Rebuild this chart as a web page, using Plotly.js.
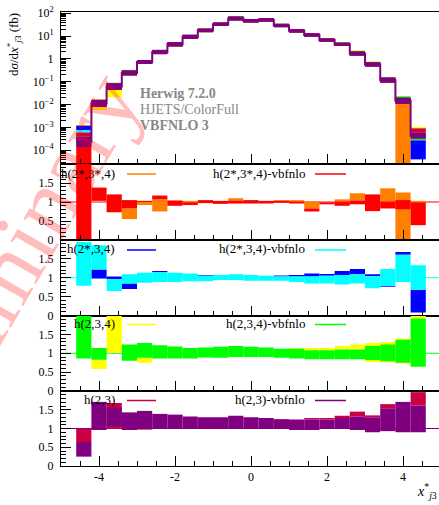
<!DOCTYPE html>
<html><head><meta charset="utf-8">
<script src="https://cdn.plot.ly/plotly-3.0.1.min.js"></script>
<style>html,body{margin:0;padding:0;overflow:hidden;background:#fff}</style>
</head><body><div id="chart" style="width:441px;height:505px"></div>
<script>
// ---------------- DATA ----------------
const binCenters = [-4.4,-4.0,-3.6,-3.2,-2.8,-2.4,-2.0,-1.6,-1.2,-0.8,-0.4,0.0,0.4,0.8,1.2,1.6,2.0,2.4,2.8,3.2,3.6,4.0,4.4];
const binWidth = 0.4;

// Main panel: d sigma / dx (fb), band lower / upper per bin
const mainPurpleLo = [1.4e-4,7.9e-3,4.4e-2,0.19,0.60,1.62,3.5,7.4,14.8,27.5,47.9,38.9,42.7,24.5,14.1,9.3,5.6,3.7,1.38,0.46,0.091,0.0107,3.2e-4];
const mainPurpleHi = [3.9e-4,1.58e-2,8.5e-2,0.31,0.89,2.45,5.4,11.2,20.9,38.9,70.8,55,60.3,33.9,20.0,13.2,7.9,5.1,2.1,0.71,0.151,0.020,5.8e-4];
const mainCrimsonLo = [3.9e-4,7.9e-3,4.4e-2,0.19,0.60,1.62,3.5,7.4,14.8,27.5,47.9,38.9,42.7,24.5,14.1,9.3,5.6,3.7,1.38,0.46,0.091,0.0107,5.8e-4];
const mainCrimsonHi = [6.0e-4,1.58e-2,8.5e-2,0.31,0.89,2.45,5.4,11.2,20.9,38.9,70.8,55,60.3,33.9,20.0,13.2,7.9,5.1,2.1,0.71,0.151,0.020,9.1e-4];
const mainGreenLo = [1.4e-4,7.9e-3,4.4e-2,0.19,0.60,1.62,3.5,7.4,14.8,27.5,47.9,38.9,42.7,24.5,14.1,9.3,5.6,3.7,1.38,0.46,0.091,0.0107,2.75e-4];
const mainGreenHi = [3.9e-4,1.58e-2,8.5e-2,0.33,0.89,2.45,5.4,11.2,20.9,38.9,70.8,55,60.3,33.9,20.0,13.2,7.9,5.1,2.25,0.74,0.151,0.023,3.2e-4];
const mainYellowLo = [1.4e-4,5.8e-3,2.1e-2,0.19,0.60,1.62,3.5,7.4,14.8,27.5,47.9,38.9,42.7,24.5,14.1,9.3,5.6,3.7,1.38,0.46,0.091,0.0107,6.0e-4];
const mainYellowHi = [3.9e-4,1.0e-2,5.0e-2,0.31,0.89,2.45,5.4,11.2,20.9,38.9,70.8,55,60.3,33.9,20.0,13.2,7.9,5.1,2.3,0.76,0.151,0.020,1.05e-3];
const mainCyanLo = [6.0e-4,7.9e-3,4.4e-2,0.19,0.60,1.62,3.5,7.4,14.8,27.5,47.9,38.9,42.7,24.5,14.1,9.3,5.6,3.7,1.38,0.46,0.091,0.0107,3.2e-4];
const mainCyanHi = [7.6e-4,1.58e-2,8.5e-2,0.31,0.89,2.45,5.4,11.2,20.9,38.9,70.8,55,60.3,33.9,20.0,13.2,7.9,5.1,2.1,0.71,0.151,0.020,5.8e-4];
const mainBlueLo = [7.6e-4,7.9e-3,4.5e-2,0.19,0.60,1.62,3.5,7.4,14.8,27.5,47.9,38.9,42.7,24.5,14.1,9.3,5.6,3.7,1.38,0.46,0.091,0.0107,4.0e-5];
const mainBlueHi = [1.17e-3,1.58e-2,8.9e-2,0.31,0.89,2.45,5.4,11.2,20.9,38.9,70.8,55,60.3,33.9,20.0,13.2,7.9,5.1,2.1,0.71,0.151,0.020,2.75e-4];
const mainRedLo = [1.0e-5,8.0e-3,4.4e-2,0.19,0.60,1.62,3.5,7.4,14.8,27.5,47.9,38.9,42.7,24.5,14.1,9.3,5.6,3.7,1.38,0.46,0.091,0.0107,3.2e-4];
const mainRedHi = [1.4e-4,1.66e-2,8.5e-2,0.31,0.89,2.45,5.4,11.2,20.9,38.9,70.8,55,60.3,33.9,20.0,13.2,7.9,5.1,2.1,0.71,0.151,0.020,5.8e-4];
const mainOrangeLo = [1.0e-3,7.9e-3,4.4e-2,0.19,0.60,1.62,3.5,7.4,14.8,27.5,47.9,38.9,42.7,24.5,14.1,9.3,5.6,3.7,1.38,0.46,0.10,1.0e-5,3.2e-4];
const mainOrangeHi = [1.25e-3,1.58e-2,8.5e-2,0.31,0.89,2.45,5.4,11.2,20.9,38.9,70.8,55,60.3,33.9,20.0,13.2,7.9,5.1,2.1,0.71,0.16,1.07e-2,5.8e-4];

// Ratio panel 1: h(2*,3*,4) (orange) and h(2*,3*,4)-vbfnlo (red)
const r1OrangeLo = [null,null,null,0.55,0.92,0.75,null,0.99,null,null,1.04,null,null,1.02,1.01,0.83,null,1.01,1.04,null,1.01,0.0,0.99];
const r1OrangeHi = [null,null,null,0.83,1.00,1.07,null,1.03,null,null,1.10,null,null,1.05,1.05,1.01,null,1.07,1.23,null,1.36,1.25,1.03];
const r1RedLo = [0.0,1.03,0.73,0.83,1.00,1.07,0.90,0.92,0.97,0.95,0.96,0.96,0.96,0.98,0.96,0.75,0.94,0.90,0.94,0.76,0.83,0.81,0.39];
const r1RedHi = [2.5,1.38,1.20,1.05,1.03,1.17,1.04,0.99,1.05,1.03,1.04,1.05,1.03,1.03,1.01,0.83,0.99,1.01,1.04,1.20,1.01,1.05,0.99];

// Ratio panel 2: h(2*,3,4) (blue) and h(2*,3,4)-vbfnlo (cyan)
const r2BlueLo = [null,0.98,0.96,0.70,null,1.15,null,null,1.05,null,null,null,null,1.03,1.03,1.03,1.05,1.07,1.09,1.04,0.76,1.61,0.08];
const r2BlueHi = [null,1.22,1.03,0.85,null,1.18,null,null,1.07,null,null,null,null,1.06,1.07,1.11,1.10,1.18,1.23,1.09,0.78,1.68,0.68];
const r2CyanLo = [0.79,1.22,0.65,0.85,0.87,0.89,0.89,0.91,0.91,0.94,0.94,0.92,0.92,0.92,0.89,0.85,0.85,0.82,0.85,0.72,0.78,0.89,0.68];
const r2CyanHi = [1.95,1.86,0.96,1.09,1.13,1.15,1.13,1.11,1.05,1.07,1.09,1.07,1.05,1.03,1.03,1.03,1.05,1.07,1.09,1.04,1.23,1.61,1.33];

// Ratio panel 3: h(2,3,4) (yellow) and h(2,3,4)-vbfnlo (green)
const r3YellowLo = [null,0.58,1.01,null,0.75,null,null,null,null,null,null,null,null,null,1.12,1.08,1.08,1.10,1.10,0.77,0.76,0.73,1.92];
const r3YellowHi = [null,0.83,2.10,null,0.88,null,null,null,null,null,null,null,null,null,1.14,1.14,1.14,1.19,1.23,1.27,1.30,1.39,2.10];
const r3GreenLo = [0.86,0.83,null,0.80,0.88,0.86,0.86,0.86,0.89,0.88,0.90,0.90,0.90,0.88,0.86,0.84,0.84,0.84,0.84,0.82,0.79,0.75,0.64];
const r3GreenHi = [2.10,1.14,null,1.23,1.27,1.21,1.18,1.14,1.15,1.17,1.19,1.17,1.15,1.12,1.12,1.08,1.08,1.10,1.10,1.19,1.23,1.36,1.92];

// Ratio panel 4: h(2,3) (crimson) and h(2,3)-vbfnlo (purple)
const r4CrimsonLo = [0.64,null,0.99,null,0.97,null,null,null,null,null,null,null,null,null,null,1.24,1.24,1.28,1.32,1.30,1.54,null,1.61];
const r4CrimsonHi = [0.99,null,1.68,null,1.00,null,null,null,null,null,null,null,null,null,null,1.28,1.28,1.34,1.45,1.35,1.65,null,1.97];
const r4PurpleLo = [0.25,0.96,1.05,0.96,0.99,0.99,0.99,0.99,0.99,0.99,0.99,0.99,0.99,0.99,0.96,0.96,0.99,0.99,0.96,0.90,0.93,0.90,0.90];
const r4PurpleHi = [0.64,1.71,1.56,1.43,1.47,1.39,1.37,1.32,1.30,1.30,1.34,1.30,1.28,1.25,1.24,1.24,1.24,1.28,1.32,1.30,1.54,1.71,1.61];

const legendLeft = ['h(2*,3*,4)','h(2*,3,4)','h(2,3,4)','h(2,3)'];
const legendRight = ['h(2*,3*,4)-vbfnlo','h(2*,3,4)-vbfnlo','h(2,3,4)-vbfnlo','h(2,3)-vbfnlo'];
const mainTickVals = [1e-4,1e-3,1e-2,1e-1,1,10,100];
const mainTickText = ['10<sup>−4</sup>','10<sup>−3</sup>','10<sup>−2</sup>','10<sup>−1</sup>','1','10<sup>1</sup>','10<sup>2</sup>'];
const ratioTickVals = [0,0.5,1,1.5];
const ratioTickText = ['0','0.5','1','1.5'];
const xTickVals = [-4,-2,0,2,4];

// ---------------- STYLE ----------------
const C = {orange:'#ff8000', red:'#ff0000', blue:'#0000ff', cyan:'#00ffff',
           yellow:'#ffff00', green:'#00ff00', crimson:'#cc0044', purple:'#800080'};
const FONT = '"Liberation Serif", "Times New Roman", serif';
const W = 441, H = 505, ML = 61, MR = 0, MT = 12, MB = 39;
const PW = W - ML - MR, PH = H - MT - MB;
const px = x => (x - ML) / PW;            // pixel -> paper x
const py = y => (H - MB - y) / PH;        // pixel -> paper y

function band(lo, hi, color, ya) {
  return {type:'bar', x:binCenters, base:lo,
    y: hi.map((h,i) => (h==null || lo[i]==null) ? null : h - lo[i]),
    width: binWidth, marker:{color:color, line:{width:0}},
    yaxis:ya, hoverinfo:'skip', showlegend:false};
}
// histogram step line through the band centres (geometric mean on the log panel)
function stepLine(lo, hi, color, ya, w) {
  const edges = binCenters.map(c => c - binWidth/2).concat([binCenters[binCenters.length-1] + binWidth/2]);
  const mid = lo.map((l,i) => Math.sqrt(l*hi[i]));
  return {type:'scatter', mode:'lines', x:edges, y:mid.concat([mid[mid.length-1]]),
    line:{shape:'hv', color:color, width:w}, yaxis:ya, hoverinfo:'skip', showlegend:false};
}

const traces = [
  band(mainOrangeLo, mainOrangeHi, C.orange, 'y'),
  band(mainRedLo, mainRedHi, C.red, 'y'),
  band(mainBlueLo, mainBlueHi, C.blue, 'y'),
  band(mainCyanLo, mainCyanHi, C.cyan, 'y'),
  band(mainYellowLo, mainYellowHi, C.yellow, 'y'),
  band(mainGreenLo, mainGreenHi, C.green, 'y'),
  band(mainCrimsonLo, mainCrimsonHi, C.crimson, 'y'),
  band(mainPurpleLo, mainPurpleHi, C.purple, 'y'),
  stepLine(mainPurpleLo, mainPurpleHi, C.purple, 'y', 2),
  band(r1OrangeLo, r1OrangeHi, C.orange, 'y2'),
  band(r1RedLo, r1RedHi, C.red, 'y2'),
  band(r2BlueLo, r2BlueHi, C.blue, 'y3'),
  band(r2CyanLo, r2CyanHi, C.cyan, 'y3'),
  band(r3YellowLo, r3YellowHi, C.yellow, 'y4'),
  band(r3GreenLo, r3GreenHi, C.green, 'y4'),
  band(r4CrimsonLo, r4CrimsonHi, C.crimson, 'y5'),
  band(r4PurpleLo, r4PurpleHi, C.purple, 'y5'),
];
const xFor = {y:'x2', y2:'x3', y3:'x4', y4:'x5', y5:'x'};
traces.forEach(t => { t.xaxis = xFor[t.yaxis]; });

const tickFont = {family:FONT, size:12, color:'#000'};
function xAxis(anchor, labels) {
  return {anchor:anchor, range:[-5,5], showgrid:false, zeroline:false,
    showline:true, mirror:true, linecolor:'#000', linewidth:1,
    ticks:'inside', ticklen:10, tickcolor:'#000', tickvals:xTickVals,
    ticktext: xTickVals.map(v => v < 0 ? '-' + Math.abs(v) : String(v)),
    showticklabels:labels, tickfont:tickFont,
    minor:{ticks:'inside', ticklen:5, dtick:0.5, tick0:0, tickcolor:'#000'}};
}
function ratioAxis(anchor, domain) {
  return {anchor:anchor, domain:domain, range:[0,2], showgrid:false, zeroline:false,
    showline:true, mirror:true, linecolor:'#000', linewidth:1,
    ticks:'inside', ticklen:10, tickcolor:'#000', tickvals:ratioTickVals, ticktext:ratioTickText,
    tickfont:tickFont, ticklabelstandoff:4,
    minor:{ticks:'inside', ticklen:5, dtick:0.1, tick0:0, tickcolor:'#000'}};
}

const dMain = [py(164), 1], d1 = [py(240), py(164)], d2 = [py(315.5), py(240)],
      d3 = [py(391), py(315.5)], d4 = [0, py(391)];

const legendColorsL = [C.orange, C.blue, C.yellow, C.crimson];
const legendColorsR = [C.red, C.cyan, C.green, C.purple];
const refRefs = ['y2','y3','y4','y5'];
const legendY = [173, 249, 323.5, 399.5];

const annotations = [];
const shapes = [];
for (let i = 0; i < 4; i++) {
  annotations.push({xref:'paper', yref:'paper', x:px(117), y:py(legendY[i]), xanchor:'right', yanchor:'middle',
    text:legendLeft[i], showarrow:false, font:{family:FONT, size:13, color:'#000'}});
  annotations.push({xref:'paper', yref:'paper', x:px(307), y:py(legendY[i]), xanchor:'right', yanchor:'middle',
    text:legendRight[i], showarrow:false, font:{family:FONT, size:13, color:'#000'}});
  shapes.push({type:'line', xref:'paper', yref:'paper', x0:px(127), x1:px(156), y0:py(legendY[i]+1), y1:py(legendY[i]+1),
    line:{color:legendColorsL[i], width:1.5}});
  shapes.push({type:'line', xref:'paper', yref:'paper', x0:px(315), x1:px(346), y0:py(legendY[i]+1), y1:py(legendY[i]+1),
    line:{color:legendColorsR[i], width:1.5}});
  shapes.push({type:'line', xref:'paper', yref:refRefs[i], x0:0, x1:1, y0:1, y1:1, layer:'below',
    line:{color:legendColorsR[i], width:1.2}});
}
annotations.push(
  {xref:'paper', yref:'paper', x:px(138), y:py(93), xanchor:'left', yanchor:'middle', showarrow:false,
   text:'<b>Herwig 7.2.0</b>', font:{family:FONT, size:14, color:'#888'}},
  {xref:'paper', yref:'paper', x:px(138), y:py(109), xanchor:'left', yanchor:'middle', showarrow:false,
   text:'HJETS/ColorFull', font:{family:FONT, size:14, color:'#888'}},
  {xref:'paper', yref:'paper', x:px(138), y:py(125), xanchor:'left', yanchor:'middle', showarrow:false,
   text:'<b>VBFNLO 3</b>', font:{family:FONT, size:14, color:'#888'}},
  {xref:'paper', yref:'paper', x:px(14), y:py(45), xanchor:'center', yanchor:'middle', showarrow:false, textangle:-90,
   text:'d<i>σ</i>/d<i>x</i><sup>*</sup><sub><i>j</i>3</sub> (fb)', font:{family:FONT, size:13, color:'#000'}},
  {xref:'paper', yref:'paper', x:px(439), y:py(491), xanchor:'right', yanchor:'middle', showarrow:false,
   text:'<i>x</i><sup>*</sup><sub><i>j</i>3</sub>', font:{family:FONT, size:14, color:'#000'}},
  {xref:'paper', yref:'paper', x:px(6), y:py(272), xanchor:'center', yanchor:'middle', showarrow:false, textangle:-60,
   text:'preliminary', font:{family:FONT, size:95, color:'rgba(255,0,0,0.26)'}}
);

const layout = {
  width:W, height:H, margin:{l:ML, r:MR, t:MT, b:MB}, paper_bgcolor:'#fff', plot_bgcolor:'rgba(0,0,0,0)',
  barmode:'overlay', showlegend:false, font:{family:FONT, color:'#000'},
  xaxis: xAxis('y5', true),
  xaxis2: Object.assign(xAxis('y', false), {matches:'x'}),
  xaxis3: Object.assign(xAxis('y2', false), {matches:'x'}),
  xaxis4: Object.assign(xAxis('y3', false), {matches:'x'}),
  xaxis5: Object.assign(xAxis('y4', false), {matches:'x'}),
  yaxis: {anchor:'x2', domain:dMain, type:'log', range:[-4.6, 2.05], showgrid:false, zeroline:false,
    showline:true, mirror:true, linecolor:'#000', linewidth:1, ticks:'inside', ticklen:10, tickcolor:'#000',
    tickvals:mainTickVals, ticktext:mainTickText, tickfont:tickFont, ticklabelstandoff:4,
    minor:{ticks:'inside', ticklen:5, dtick:'D1', tickcolor:'#000'}},
  yaxis2: ratioAxis('x3', d1),
  yaxis3: ratioAxis('x4', d2),
  yaxis4: ratioAxis('x5', d3),
  yaxis5: ratioAxis('x', d4),
  annotations: annotations, shapes: shapes
};
Plotly.newPlot('chart', traces, layout, {displayModeBar:false, staticPlot:true});
</script></body></html>
